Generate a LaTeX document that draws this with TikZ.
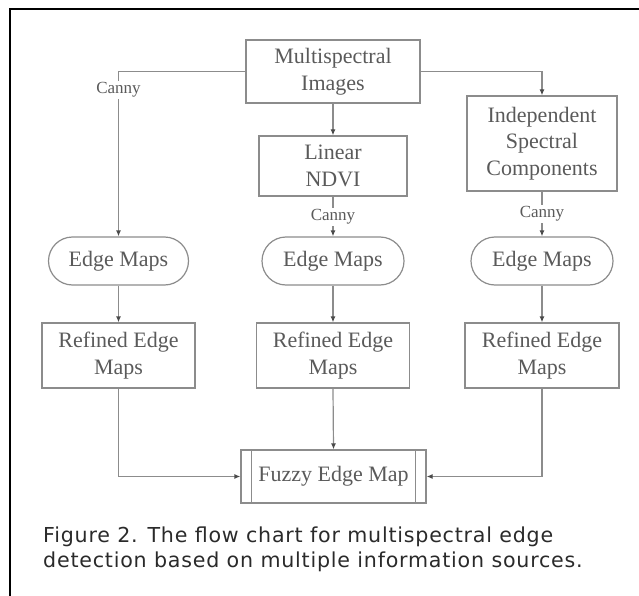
\documentclass[tikz,border=0pt]{standalone}
\usepackage{fontspec}
\setmainfont{Liberation Serif}
\newfontfamily\capfont[LetterSpace=3.8]{DejaVu Sans}
\usetikzlibrary{arrows.meta}
\definecolor{linegray}{HTML}{8C8C8C}
\definecolor{txtgray}{HTML}{5A5A5A}
\definecolor{tipgray}{HTML}{4A4A4A}
\definecolor{capgray}{HTML}{2A2A2A}
\begin{document}
\begin{tikzpicture}[x=1pt,y=-1pt,
  box/.style={draw=linegray, line width=1.2pt, text=txtgray, font=\fontsize{22pt}{26.5pt}\selectfont, align=center, inner sep=0pt},
  stadium/.style={box, rounded corners=24pt},
  canny/.style={fill=white, text=txtgray, font=\fontsize{17pt}{20pt}\selectfont, inner sep=1.5pt},
  conn/.style={draw=linegray, line width=1.2pt},
  arr/.style={conn, -{Latex[length=6pt,width=5pt,color=tipgray]}},
  captext/.style={anchor=base west, inner sep=0pt, text=capgray, font=\capfont\fontsize{20.6pt}{25pt}\selectfont}]
\useasboundingbox (0,0) rectangle (639,596);
% frame
\draw[black, line width=1.4pt] (639,9) -- (10,9) -- (10,596);
% nodes
\node[box, minimum width=174pt, minimum height=63pt] (mi) at (333,71.5) {Multispectral\\Images};
\node[box, minimum width=148pt, minimum height=60pt] (lin) at (333,166) {Linear\\NDVI};
\node[box, minimum width=150pt, minimum height=95pt] (ind) at (542,143.5) {Independent\\Spectral\\Components};
\node[stadium, minimum width=140pt, minimum height=48pt] (em1) at (118.5,261) {Edge Maps};
\node[stadium, minimum width=142pt, minimum height=48pt] (em2) at (333,261) {Edge Maps};
\node[stadium, minimum width=142pt, minimum height=48pt] (em3) at (542,261) {Edge Maps};
\node[box, minimum width=153pt, minimum height=65pt] (rf1) at (118.5,355.5) {Refined Edge\\Maps};
\node[box, minimum width=153pt, minimum height=65pt] (rf2) at (333,355.5) {Refined Edge\\Maps};
\node[box, minimum width=154pt, minimum height=65pt] (rf3) at (542,355.5) {Refined Edge\\Maps};
\node[box, minimum width=185pt, minimum height=53pt] (fz) at (333.5,476.5) {Fuzzy Edge Map};
\draw[conn] ([xshift=11pt]fz.north west) -- ([xshift=11pt]fz.south west);
\draw[conn] ([xshift=-11pt]fz.north east) -- ([xshift=-11pt]fz.south east);
% connectors
\draw[arr] (mi.west) -| (em1.north);
\draw[arr] (mi.south) -- (lin.north);
\draw[arr] (mi.east) -| (ind.north);
\draw[arr] (lin.south) -- (em2.north);
\draw[arr] (ind.south) -- (em3.north);
\draw[arr] (em1.south) -- (rf1.north);
\draw[arr] (em2.south) -- (rf2.north);
\draw[arr] (em3.south) -- (rf3.north);
\draw[arr] (rf1.south) |- (fz.west);
\draw[arr] (rf2.south) -- (fz.north);
\draw[arr] (rf3.south) |- (fz.east);
% labels
\node[canny] (c1) at (118.5,90) {Canny};
\node[canny] (c2) at (333,217) {Canny};
\node[canny] (c3) at (542,214) {Canny};
% caption
\node[captext] (cap1) at (43,542) {Figure 2. The flow chart for multispectral edge};
\node[captext] (cap2) at (43,567) {detection based on multiple information sources.};
\end{tikzpicture}
\end{document}
